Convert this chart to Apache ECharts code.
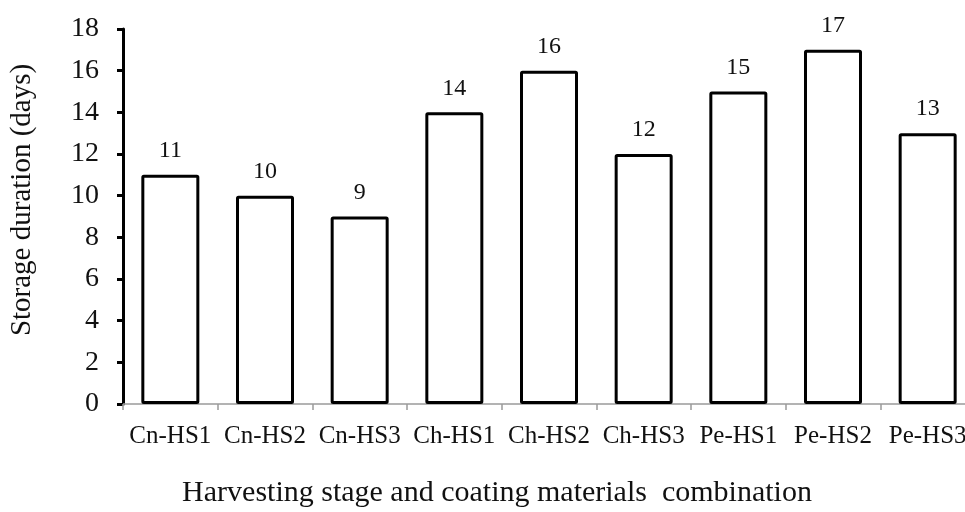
<!DOCTYPE html>
<html>
<head>
<meta charset="utf-8">
<script src="https://cdn.jsdelivr.net/npm/echarts@6/dist/echarts.min.js"></script>
<style>
  html, body { margin: 0; padding: 0; background: #fff; overflow: hidden; }
  /* canvas runs slightly past the right edge so the last category is cut off */
  #chart { width: 975px; height: 512px; }
</style>
</head>
<body>
<div id="chart"></div>
<script>
// Storage duration per harvesting stage / coating combination
const categories = ['Cn-HS1', 'Cn-HS2', 'Cn-HS3', 'Ch-HS1', 'Ch-HS2', 'Ch-HS3', 'Pe-HS1', 'Pe-HS2', 'Pe-HS3'];
const storageDays = [11, 10, 9, 14, 16, 12, 15, 17, 13];
const yTicks = { min: 0, max: 18, interval: 2 };

const FONT = '"Liberation Serif", "Times New Roman", serif';

const chart = echarts.init(document.getElementById('chart'), null, { renderer: 'canvas' });

chart.setOption({
  animation: false,
  backgroundColor: '#ffffff',
  grid: { left: 123, right: 0, top: 29, bottom: 108, containLabel: false },
  xAxis: {
    type: 'category',
    data: categories,
    boundaryGap: true,
    axisLine: { show: true, lineStyle: { color: '#9a9a9a', width: 1.5 } },
    axisTick: { show: true, length: 6, interval: 0, lineStyle: { color: '#9a9a9a', width: 1.5 } },
    axisLabel: { color: '#111', fontFamily: FONT, fontSize: 25, margin: 20, interval: 0, hideOverlap: false },
    splitLine: { show: false }
  },
  yAxis: {
    type: 'value',
    min: yTicks.min,
    max: yTicks.max,
    interval: yTicks.interval,
    axisLine: { show: true, lineStyle: { color: '#000', width: 3 } },
    axisTick: { show: true, inside: false, length: 6, lineStyle: { color: '#000', width: 3 } },
    axisLabel: { color: '#111', fontFamily: FONT, fontSize: 28, margin: 24 },
    splitLine: { show: false }
  },
  graphic: [
    {
      type: 'text',
      x: 497, y: 493,
      style: {
        text: 'Harvesting stage and coating materials  combination',
        fontFamily: FONT, fontSize: 30, fill: '#111',
        textAlign: 'center', textVerticalAlign: 'middle'
      }
    },
    {
      type: 'text',
      x: 22, y: 200,
      rotation: Math.PI / 2,
      style: {
        text: 'Storage duration (days)',
        fontFamily: FONT, fontSize: 29, fill: '#111',
        textAlign: 'center', textVerticalAlign: 'middle'
      }
    }
  ],
  series: [{
    type: 'bar',
    data: storageDays,
    barWidth: 58,
    itemStyle: { color: '#ffffff', borderColor: '#000', borderWidth: 3, borderJoin: 'round', borderRadius: 1 },
    label: {
      show: true, position: 'top', distance: 12,
      color: '#111', fontFamily: FONT, fontSize: 24
    }
  }]
});
</script>
</body>
</html>
